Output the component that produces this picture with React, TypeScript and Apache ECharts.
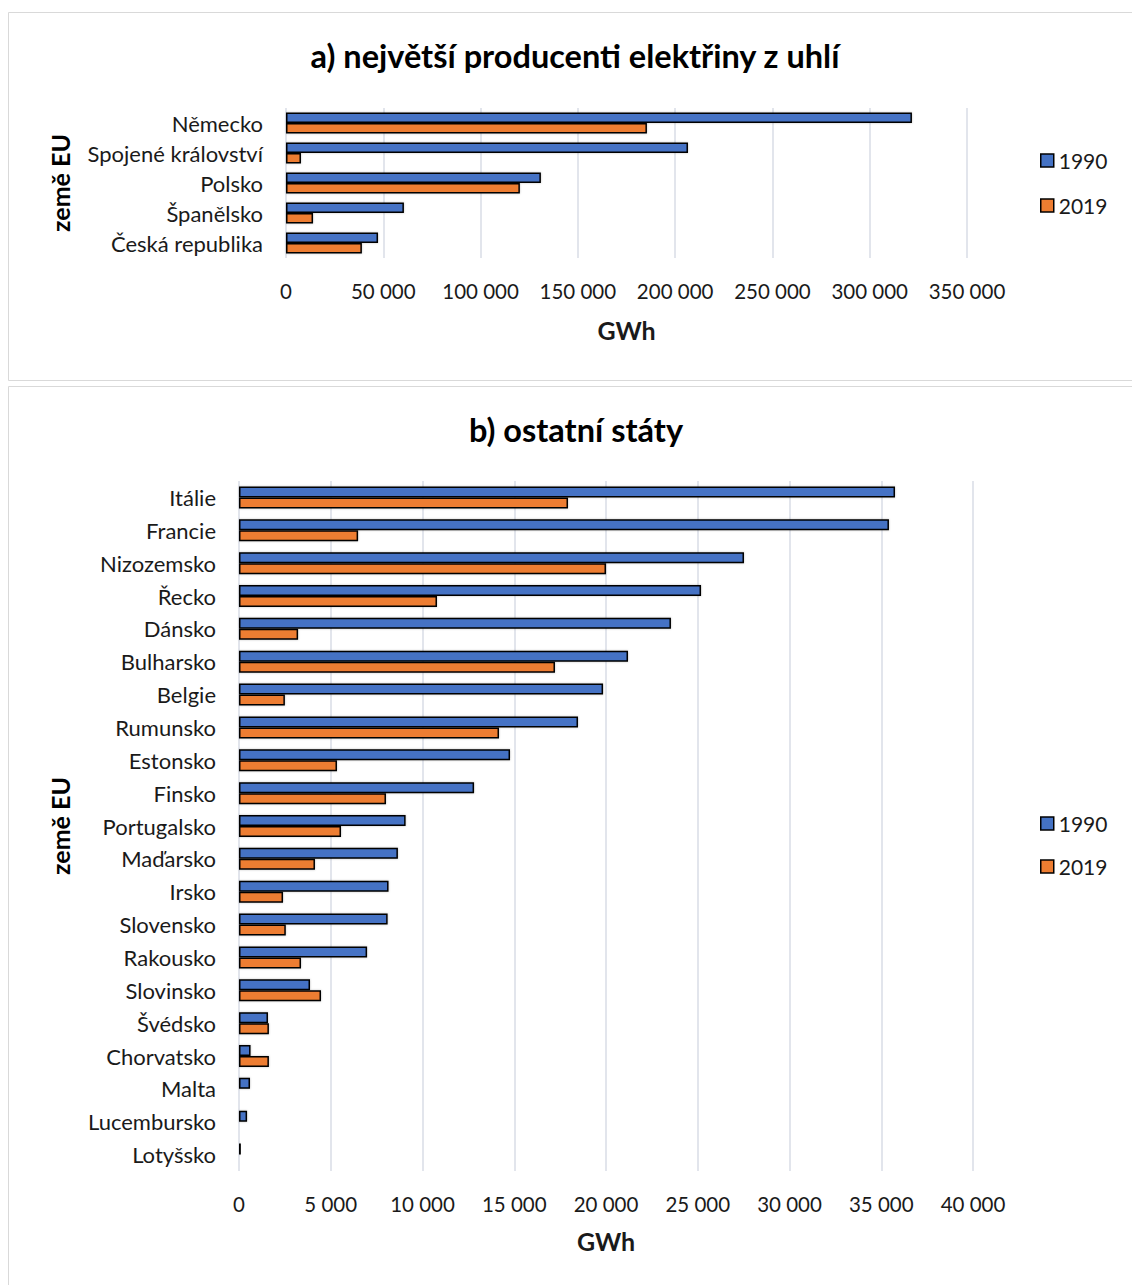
import React, { useEffect, useRef } from "react";
import * as echarts from "echarts";

// a) largest coal-power producers (GWh)
const countriesA = ["Německo", "Spojené království", "Polsko", "Španělsko", "Česká republika"];
const a1990 = [321700, 206600, 131000, 60600, 47300];
const a2019 = [185500, 7700, 120200, 13900, 39000];

// b) other member states (GWh)
const countriesB = [
  "Itálie", "Francie", "Nizozemsko", "Řecko", "Dánsko", "Bulharsko", "Belgie",
  "Rumunsko", "Estonsko", "Finsko", "Portugalsko", "Maďarsko", "Irsko", "Slovensko",
  "Rakousko", "Slovinsko", "Švédsko", "Chorvatsko", "Malta", "Lucembursko", "Lotyšsko",
];
const b1990 = [35750, 35420, 27520, 25180, 23540, 21200, 19840, 18475, 14770, 12810, 9080, 8660, 8150, 8100, 6980, 3870, 1580, 630, 600, 440, 100];
const b2019 = [17930, 6490, 20000, 10790, 3220, 17220, 2500, 14170, 5340, 8010, 5560, 4140, 2400, 2550, 3380, 4470, 1630, 1630, null, null, null];

const years = ["1990", "2019"];
const titleA = "a) největší producenti elektřiny z uhlí";
const titleB = "b) ostatní státy";

const FONT = "Lato, 'Open Sans', sans-serif";
const BLUE = "#4472c4";
const ORANGE = "#ed7d31";
const TEXT = "#1a1a1a";

const fmt = (v: number) => String(v).replace(/\B(?=(\d{3})+(?!\d))/g, " ");

function valueAxis(gridIndex: number, max: number, interval: number, nameGap: number) {
  return {
    type: "value",
    gridIndex,
    min: 0,
    max,
    interval,
    name: "GWh",
    nameLocation: "middle",
    nameGap,
    nameTextStyle: { fontFamily: FONT, fontSize: 25, fontWeight: "bold", color: TEXT },
    axisLine: { show: false },
    axisTick: { show: false },
    axisLabel: { fontFamily: FONT, fontSize: 20.5, color: TEXT, margin: 22, formatter: fmt },
    splitLine: { show: true, lineStyle: { color: "#d9dde6", width: 1.5 } },
  };
}

function categoryAxis(gridIndex: number, data: string[], nameGap: number) {
  return {
    type: "category",
    gridIndex,
    data,
    inverse: true,
    name: "země EU",
    nameLocation: "middle",
    nameGap,
    nameRotate: 90,
    nameTextStyle: { fontFamily: FONT, fontSize: 25, fontWeight: "bold", color: "#000" },
    axisLine: { show: false },
    axisTick: { show: false },
    axisLabel: { fontFamily: FONT, fontSize: 22, color: TEXT, margin: 23 },
  };
}

function barSeries(name: string, data: (number | null)[], color: string, axisIndex: number, gap: string) {
  return {
    type: "bar",
    name,
    data,
    xAxisIndex: axisIndex,
    yAxisIndex: axisIndex,
    barGap: "0%",
    barCategoryGap: gap,
    itemStyle: {
      color,
      borderColor: "#000",
      borderWidth: 1.5,
      shadowColor: "rgba(0,0,0,0.25)",
      shadowBlur: 2,
    },
  };
}

function legend(top: number, gap: number) {
  return {
    orient: "vertical",
    left: 1035,
    top,
    itemWidth: 13,
    itemHeight: 13,
    itemGap: gap,
    icon: "rect",
    data: years,
    textStyle: { fontFamily: FONT, fontSize: 21, color: TEXT },
    itemStyle: { borderColor: "#000", borderWidth: 1.5 },
  };
}

export default function App() {
  const ref = useRef<HTMLDivElement>(null);

  useEffect(() => {
    if (!ref.current) return;
    const chart = echarts.init(ref.current, undefined, { renderer: "svg" });
    chart.setOption({
      animation: false,
      backgroundColor: "#fff",
      graphic: [
        {
          type: "rect",
          shape: { x: 8.5, y: 12.5, width: 1130, height: 368 },
          style: { fill: "none", stroke: "#d9d9d9", lineWidth: 1 },
          silent: true,
        },
        {
          type: "rect",
          shape: { x: 8.5, y: 386.5, width: 1130, height: 910 },
          style: { fill: "none", stroke: "#d9d9d9", lineWidth: 1 },
          silent: true,
        },
        {
          type: "text",
          x: 575,
          y: 55,
          style: {
            text: titleA,
            fontFamily: FONT,
            fontSize: 32.5,
            fontWeight: "bold",
            fill: "#000",
            align: "center",
            verticalAlign: "middle",
          },
        },
        {
          type: "text",
          x: 576,
          y: 429,
          style: {
            text: titleB,
            fontFamily: FONT,
            fontSize: 32.5,
            fontWeight: "bold",
            fill: "#000",
            align: "center",
            verticalAlign: "middle",
          },
        },
      ],
      legend: [legend(145, 24), legend(808, 22)],
      grid: [
        { left: 286, right: 165, top: 108, height: 150 },
        { left: 239, right: 159, top: 481, height: 690 },
      ],
      xAxis: [valueAxis(0, 350000, 50000, 59), valueAxis(1, 40000, 5000, 57)],
      yAxis: [categoryAxis(0, countriesA, 214), categoryAxis(1, countriesB, 167)],
      series: [
        barSeries("1990", a1990, BLUE, 0, "30%"),
        barSeries("2019", a2019, ORANGE, 0, "30%"),
        barSeries("1990", b1990, BLUE, 1, "33%"),
        barSeries("2019", b2019, ORANGE, 1, "33%"),
      ],
    });
    return () => chart.dispose();
  }, []);

  return (
    <div
      ref={ref}
      style={{ position: "absolute", left: 0, top: 0, width: 1132, height: 1285 }}
    />
  );
}
